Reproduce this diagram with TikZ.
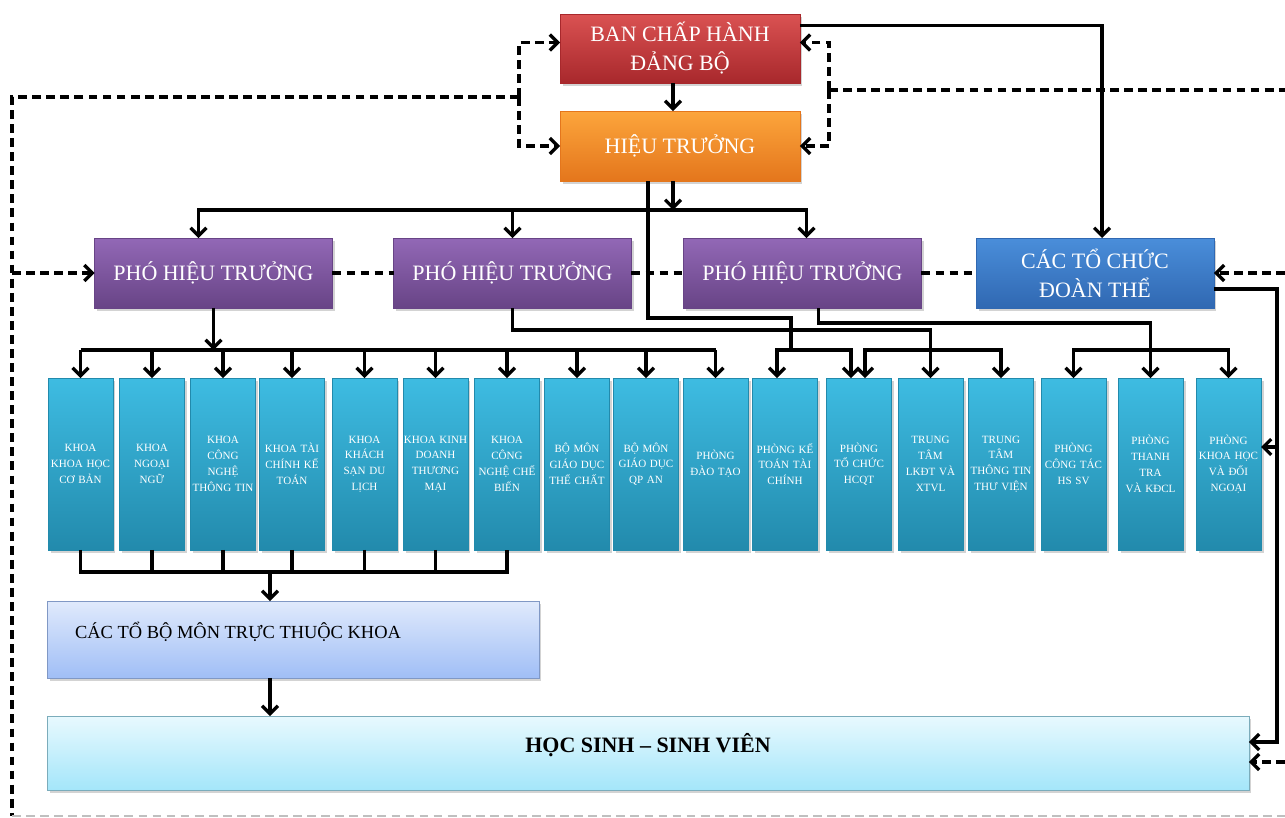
\documentclass[tikz,border=0pt]{standalone}
\usepackage{fontspec}
\setmainfont{Liberation Serif}
\usetikzlibrary{arrows.meta}
\usetikzlibrary{calc}
\usetikzlibrary{shadows}
\definecolor{redtop}{RGB}{218,82,82}
\definecolor{redbot}{RGB}{168,40,44}
\definecolor{orgtop}{RGB}{252,165,60}
\definecolor{orgbot}{RGB}{228,118,28}
\definecolor{vptop}{RGB}{146,104,182}
\definecolor{vpbot}{RGB}{104,68,134}
\definecolor{bluetop}{RGB}{74,142,218}
\definecolor{bluebot}{RGB}{48,104,178}
\definecolor{coltop}{RGB}{62,188,226}
\definecolor{colbot}{RGB}{34,138,172}
\definecolor{subtop}{RGB}{224,234,252}
\definecolor{subbot}{RGB}{160,190,246}
\definecolor{sstop}{RGB}{232,249,254}
\definecolor{ssbot}{RGB}{164,230,250}
\tikzset{
	box/.style = {
		align=center,
		inner sep=0pt,
		outer sep=0pt,
		text centered,
		text=white,
		font=\fontsize{12.5}{16.5}\selectfont,
		drop shadow={opacity=0.35,shadow xshift=0.05cm,shadow yshift=-0.06cm}
	},
	box_red/.style = {
		box,
		top color=redtop,
		bottom color=redbot,
		draw=redbot,
		minimum width=4.8cm,
		minimum height=1.38cm
	},
	box_org/.style = {
		box,
		top color=orgtop,
		bottom color=orgbot,
		draw=orgbot,
		minimum width=4.8cm,
		minimum height=1.4cm
	},
	box_vp/.style = {
		box,
		top color=vptop,
		bottom color=vpbot,
		draw=vpbot,
		minimum width=4.76cm,
		minimum height=1.4cm
	},
	box_blue/.style = {
		box,
		top color=bluetop,
		bottom color=bluebot,
		draw=bluebot,
		minimum width=4.76cm,
		minimum height=1.4cm
	},
	box_col/.style = {
		box,
		top color=coltop,
		bottom color=colbot,
		draw=colbot,
		text width=1.28cm,
		minimum width=1.3cm,
		minimum height=3.44cm,
		font=\fontsize{6.3}{9}\selectfont
	},
	box_sub/.style = {
		box,
		text=black,
		top color=subtop,
		bottom color=subbot,
		draw=subbot!80!black,
		minimum width=9.84cm,
		minimum height=1.54cm,
		text depth=0.36cm,
		font=\fontsize{10.5}{13}\selectfont
	},
	box_ss/.style = {
		box,
		text=black,
		top color=sstop,
		bottom color=ssbot,
		draw=ssbot!75!black,
		minimum width=24.04cm,
		minimum height=1.48cm,
		text depth=0.4cm,
		font=\fontsize{12.5}{15}\selectfont\bfseries
	},
	link/.style = {
		line width=1.9pt,
		black
	},
	link_d/.style = {
		link,
		dash pattern=on 5pt off 3pt
	},
}

\begin{document}
\begin{tikzpicture}[x=0.02cm,y=-0.02cm,>={Straight Barb[length=4.5pt,width=9pt]}]
\useasboundingbox (0,0) rectangle (1285,818);
\node [box_red] (bch) at (680,48.5) {BAN CHẤP HÀNH\\ĐẢNG BỘ};
\node [box_org] (ht) at (680,146) {HIỆU TRƯỞNG};
\node [box_vp] (pht1) at (213.5,273) {PHÓ HIỆU TRƯỞNG};
\node [box_vp] (pht2) at (512.5,273) {PHÓ HIỆU TRƯỞNG};
\node [box_vp] (pht3) at (802.5,273) {PHÓ HIỆU TRƯỞNG};
\node [box_blue] (ctc) at (1095,273) {CÁC TỔ CHỨC\\ĐOÀN THỂ};

\node [box_col] (kcb) at (80.5,464) {KHOA\\KHOA HỌC\\CƠ BẢN};
\node [box_col] (knn) at (152,464) {KHOA\\NGOẠI\\NGỮ};
\node [box_col] (kcntt) at (223,464) {KHOA\\CÔNG\\NGHỆ\\THÔNG TIN};
\node [box_col] (ktckt) at (292,464) {KHOA TÀI\\CHÍNH KẾ\\TOÁN};
\node [box_col] (kksdl) at (364.5,464) {KHOA\\KHÁCH\\SẠN DU\\LỊCH};
\node [box_col] (kkdtm) at (435.5,464) {KHOA KINH\\DOANH\\THƯƠNG\\MẠI};
\node [box_col] (kcncb) at (507,464) {KHOA\\CÔNG\\NGHỆ CHẾ\\BIẾN};
\node [box_col] (bmtc) at (577,464) {BỘ MÔN\\GIÁO DỤC\\THỂ CHẤT};
\node [box_col] (bmqp) at (646,464) {BỘ MÔN\\GIÁO DỤC\\QP AN};
\node [box_col] (pdt) at (715.5,464) {PHÒNG\\ĐÀO TẠO};
\node [box_col] (pktc) at (785,464) {PHÒNG KẾ\\TOÁN TÀI\\CHÍNH};
\node [box_col] (ptc) at (859,464) {PHÒNG\\TỔ CHỨC\\HCQT};
\node [box_col] (tlk) at (930.5,464) {TRUNG\\TÂM\\LKĐT VÀ\\XTVL};
\node [box_col] (ttv) at (1001,464) {TRUNG\\TÂM\\THÔNG TIN\\THƯ VIỆN};
\node [box_col] (pctsv) at (1073.5,464) {PHÒNG\\CÔNG TÁC\\HS SV};
\node [box_col] (ptt) at (1150.5,464) {PHÒNG\\THANH\\TRA\\VÀ KĐCL};
\node [box_col] (pkh) at (1228.5,464) {PHÒNG\\KHOA HỌC\\VÀ ĐỐI\\NGOẠI};

\node [box_sub] (tbm) at (293,639.5) {CÁC TỔ BỘ MÔN TRỰC THUỘC KHOA\hspace*{2.2cm}};
\node [box_ss] (hssv) at (648,753) {HỌC SINH – SINH VIÊN};

\coordinate (jh) at (673,210);
\coordinate (bus_a) at (0,350);
\coordinate (bus_b) at (0,572);
\coordinate (jb) at (270,572);
\coordinate (j_ht) at (791,318);
\coordinate (j_pht2) at (930.5,330);
\coordinate (j_pht3) at (1150.5,323);
\coordinate (jr) at (1277,742);
\coordinate (ql) at (519,97);
\coordinate (qr) at (829,90);
\coordinate (fl) at (12,816);
\coordinate (fr) at (1285,816);

\draw [link,->] (bch.south -| jh) -- (ht.north -| jh);
\draw [link,->] (ht.south -| jh) -- (jh);
\draw [link,->] (jh) -| ($(pht1.north)+(-15,0)$);
\draw [link,->] (pht2.north |- jh) -- (pht2.north);
\draw [link,->] (jh) -| ($(pht3.north)+(4,0)$);
\draw [link,->] ($(bch.east)+(0,-23)$) -| ($(ctc.north)+(7,0)$);

\draw [link,->] (pht1.south) -- (pht1.south |- bus_a);
\draw [link] (kcb.north |- bus_a) -- (pdt.north |- bus_a);
\draw [link,->] (kcb.north |- bus_a) -- (kcb.north);
\draw [link,->] (knn.north |- bus_a) -- (knn.north);
\draw [link,->] (kcntt.north |- bus_a) -- (kcntt.north);
\draw [link,->] (ktckt.north |- bus_a) -- (ktckt.north);
\draw [link,->] (kksdl.north |- bus_a) -- (kksdl.north);
\draw [link,->] (kkdtm.north |- bus_a) -- (kkdtm.north);
\draw [link,->] (kcncb.north |- bus_a) -- (kcncb.north);
\draw [link,->] (bmtc.north |- bus_a) -- (bmtc.north);
\draw [link,->] (bmqp.north |- bus_a) -- (bmqp.north);
\draw [link,->] (pdt.north |- bus_a) -- (pdt.north);

\draw [link] ($(ht.south)+(-32,0)$) |- (j_ht) -- (j_ht |- bus_a);
\draw [link,->] (j_ht |- bus_a) -| ($(pktc.north)+(-8,0)$);
\draw [link,->] (j_ht |- bus_a) -| ($(ptc.north)+(-8,0)$);

\draw [link] (pht2.south) |- (j_pht2) -- (j_pht2 |- bus_a);
\draw [link,->] (j_pht2 |- bus_a) -- (tlk.north);
\draw [link,->] (j_pht2 |- bus_a) -| ($(ptc.north)+(6,0)$);
\draw [link,->] (j_pht2 |- bus_a) -| (ttv.north);

\draw [link] ($(pht3.south)+(16,0)$) |- (j_pht3) -- (j_pht3 |- bus_a);
\draw [link,->] (j_pht3 |- bus_a) -- (ptt.north);
\draw [link,->] (j_pht3 |- bus_a) -| (pctsv.north);
\draw [link,->] (j_pht3 |- bus_a) -| (pkh.north);

\draw [link] (kcb.south) -- (kcb.south |- bus_b) -- (kcncb.south |- bus_b) -- (kcncb.south)
	(knn.south) -- (knn.south |- bus_b)
	(kcntt.south) -- (kcntt.south |- bus_b)
	(ktckt.south) -- (ktckt.south |- bus_b)
	(kksdl.south) -- (kksdl.south |- bus_b)
	(kkdtm.south) -- (kkdtm.south |- bus_b);
\draw [link,->] (jb) -- (tbm.north -| jb);
\draw [link,->] (tbm.south -| jb) -- (hssv.north -| jb);

\draw [link,->] ($(ctc.east)+(0,16)$) -| (jr) -- (hssv.east |- jr);
\draw [link,->] ($(pkh.east)+(16,-17)$) -- ($(pkh.east)+(0,-17)$);

\draw [link_d,->] (ql) |- ($(bch.west)+(0,-6)$);
\draw [link_d,->] (ql) |- (ht.west);
\draw [link_d] (ql) -| (fl);
\draw [link_d,->] (fl |- pht1.west) -- (pht1.west);
\draw [link_d] (pht1) -- (pht2) (pht2) -- (pht3) (pht3) -- (ctc);
\draw [link_d,->] (qr) |- ($(bch.east)+(0,-6)$);
\draw [link_d,->] (qr) |- (ht.east);
\draw [link_d] (qr) -- (qr -| fr);
\draw [link_d,->] (fr |- ctc.east) -- (ctc.east);
\draw [link_d,->] ($(hssv.east)+(36,9)$) -- ($(hssv.east)+(0,9)$);
\draw [link_d,gray!50,line width=0.8pt] (fl) -- (fr);
\end{tikzpicture}
\end{document}
